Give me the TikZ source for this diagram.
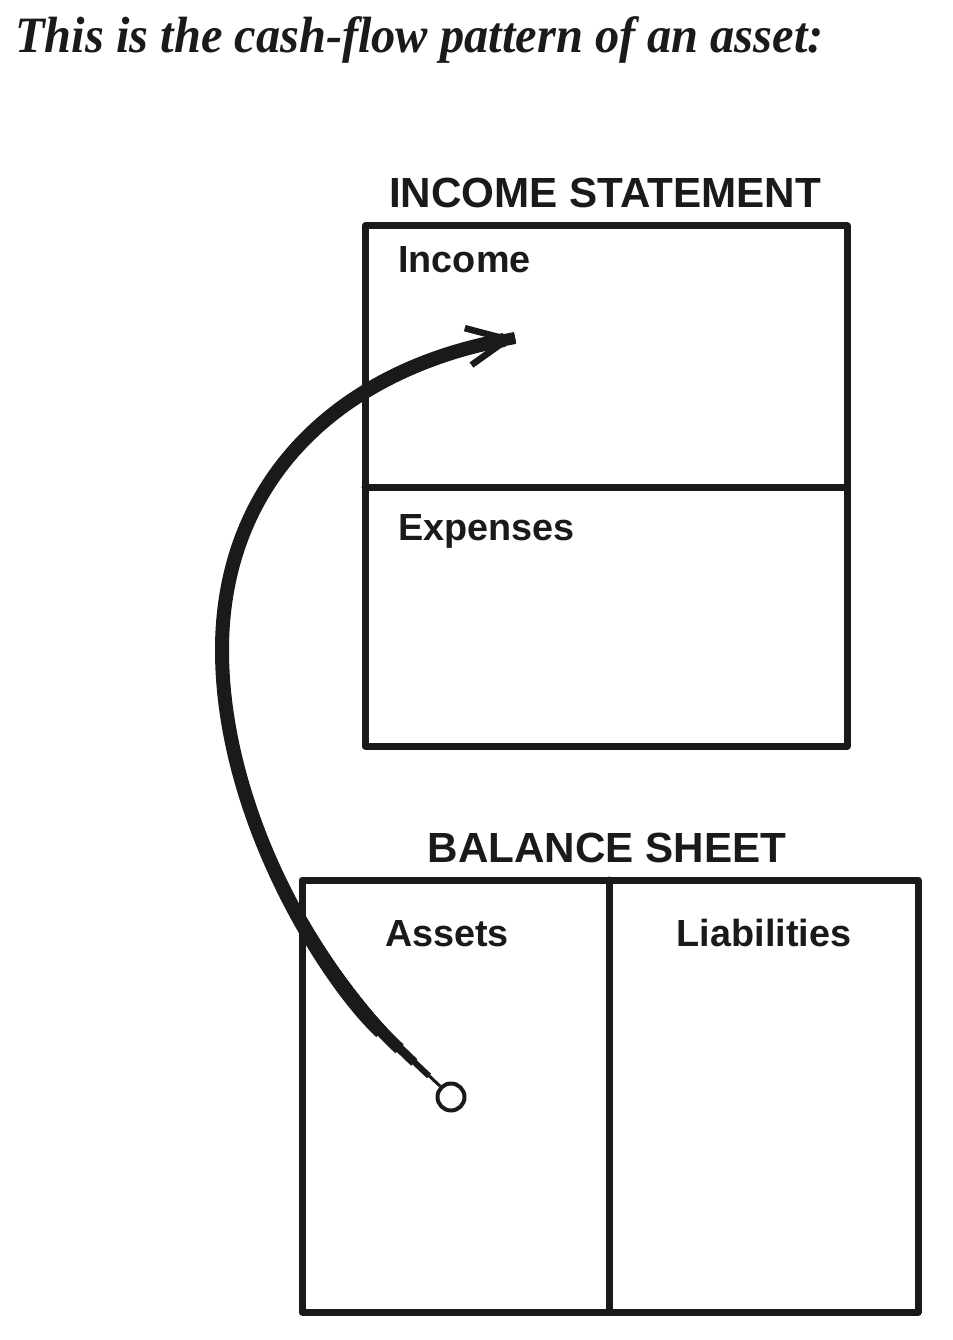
\documentclass[tikz,border=0pt]{standalone}
\usepackage{fontspec}
\setmainfont{Liberation Sans}
\newfontfamily\titlefont{Liberation Serif}
\usetikzlibrary{arrows.meta}
\definecolor{ink}{HTML}{1A1A1A}
\tikzset{
  panel/.style={draw=ink, line width=1.4mm},
  head/.style={font=\fontsize{24}{28}\selectfont\bfseries, inner sep=0pt, text=ink},
  field/.style={font=\fontsize{21.5}{26}\selectfont\bfseries, inner sep=0pt, text=ink},
}
\begin{document}
\begin{tikzpicture}[x=0.2mm, y=-0.2mm, line join=round, line cap=round, >=stealth]
  \useasboundingbox[fill=white] (0,0) rectangle (952,1340);
  \path
    (365,226) coordinate (IA)
    (847,746) coordinate (IB)
    (365,487) coordinate (IL)
    (847,487) coordinate (IR)
    (302,880) coordinate (BA)
    (918,1312) coordinate (BB)
    (609,880) coordinate (BT)
    (609,1312) coordinate (BD)
    (515,338) coordinate (tip)
    ;
  \draw[panel] (IA) rectangle (IB) (IL)--(IR);
  \draw[panel] (BA) rectangle (BB) (BT)--(BD);
  \node[anchor=base west, inner sep=0pt, text=ink,
        font=\titlefont\fontsize{29}{33}\selectfont\bfseries\itshape] (title) at (15,53)
        {\scalebox{0.95}[1]{This is the cash-flow pattern of an asset:}};
  \node[head, anchor=base] (isHead) at (605,208) {INCOME STATEMENT};
  \node[field, anchor=base west] (income) at (398,273) {Income};
  \node[field, anchor=base west] (expenses) at (398,540) {Expenses};
  \node[head, anchor=base] (bsHead) at (607,862) {BALANCE SHEET};
  \node[field, anchor=base] (assets) at (447,946) {Assets};
  \node[field, anchor=base] (liab) at (764,946) {Liabilities};
  \node[circle, draw=ink, line width=0.8mm, minimum size=5.4mm, inner sep=0pt] (start) at (451,1097) {};
  % brush stroke, thin at the circle and full width further up
  \foreach \w/\s in {0.6/0, 1.2/3, 1.8/7, 2.4/11}
    \draw[ink, line width=\w mm, line cap=butt, shorten <=\s mm]
      (start.135) .. controls (330,985) and (222,820) .. (222,650)
      .. controls (222,480) and (340,370) .. (tip);
  \draw[ink, line width=2.8mm, line cap=butt, shorten <=16mm,
        -{Straight Barb[length=8mm, width=7.5mm, line width=1.3mm]}]
    (start.135) .. controls (330,985) and (222,820) .. (222,650)
    .. controls (222,480) and (340,370) .. (tip);
\end{tikzpicture}
\end{document}
